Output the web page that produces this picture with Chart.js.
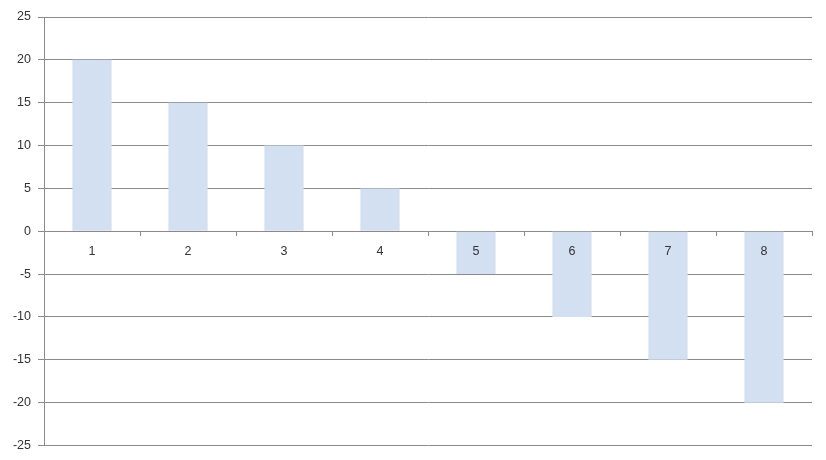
<!DOCTYPE html>
<html>
<head>
<meta charset="utf-8">
<script src="https://cdn.jsdelivr.net/npm/chart.js@4"></script>
<style>
  html, body { margin: 0; padding: 0; background: #fff; }
  #wrap { width: 826px; height: 460px; }
</style>
</head>
<body>
<div id="wrap"><canvas id="barChart"></canvas></div>
<script>
// data
const categories = ['1', '2', '3', '4', '5', '6', '7', '8'];
const values = [20, 15, 10, 5, -5, -10, -15, -20];
const yTicks = [-25, -20, -15, -10, -5, 0, 5, 10, 15, 20, 25];

const gridGrey = '#8a8a8a';
const labelGrey = '#333333';

const barChart = new Chart(document.getElementById('barChart'), {
    type: 'bar',
    data: {
        labels: categories,
        datasets: [{
            data: values,
            backgroundColor: '#d3e0f1',
            borderWidth: 0,
            categoryPercentage: 1,
            barPercentage: 0.41
        }]
    },
    options: {
        responsive: true,
        maintainAspectRatio: false,
        animation: false,
        layout: { padding: { left: 0, top: 17, right: 14, bottom: 14 } },
        plugins: {
            legend: { display: false },
            tooltip: { enabled: false }
        },
        scales: {
            x: {
                position: { y: 0 },
                grid: {
                    display: true,
                    drawOnChartArea: false,
                    drawTicks: true,
                    tickLength: 4,
                    color: gridGrey
                },
                border: { display: true, color: gridGrey, width: 1 },
                ticks: {
                    z: 1,   // labels sit on top of the bars
                    color: labelGrey,
                    padding: 9,
                    maxRotation: 0,
                    font: { family: 'Liberation Sans', size: 12.5 }
                }
            },
            y: {
                min: -25,
                max: 25,
                afterBuildTicks: (scale) => {
                    scale.ticks = yTicks.map(v => ({ value: v }));
                },
                afterFit: (scale) => {
                    scale.width = 44;
                },
                grid: {
                    color: gridGrey,
                    lineWidth: 1,
                    tickLength: 6
                },
                border: { display: true, color: gridGrey, width: 1 },
                ticks: {
                    color: labelGrey,
                    padding: 7,
                    font: { family: 'Liberation Sans', size: 12.5 }
                }
            }
        }
    }
});
</script>
</body>
</html>
